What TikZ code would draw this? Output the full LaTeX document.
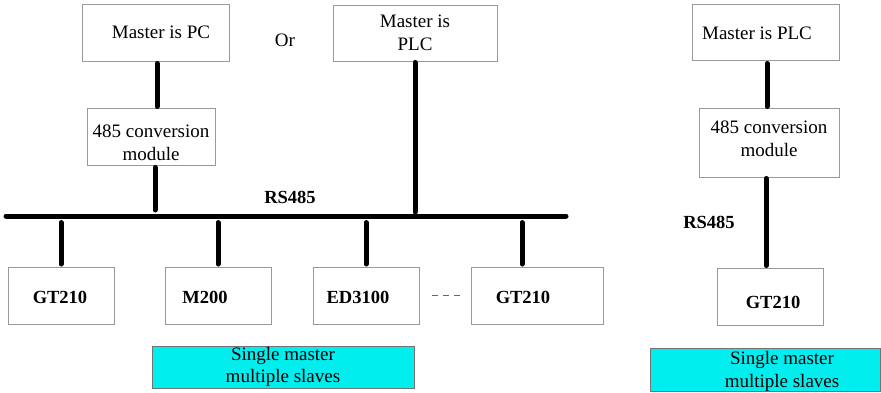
\documentclass[tikz,border=0pt]{standalone}
\usepackage{fontspec}
\setmainfont{Liberation Serif}
\definecolor{cyanfill}{RGB}{0,238,238}
\tikzset{
  box/.style={draw=black!40, line width=0.9pt, fill=white, inner sep=0pt},
  cyanbox/.style={draw=black!55, line width=0.8pt, fill=cyanfill, inner sep=0pt, align=center, font=\fontsize{19}{22}\selectfont},
  txt/.style={font=\fontsize{19}{23}\selectfont, align=center, inner sep=0pt},
  btxt/.style={font=\fontsize{18.5}{22}\selectfont\bfseries, inner sep=0pt},
  wire/.style={line width=5pt, line cap=round},
}
\begin{document}
\begin{tikzpicture}[x=1pt,y=-1pt]
\useasboundingbox (0,0) rectangle (881,393);
% left part
\node[box, minimum width=147pt, minimum height=57pt] (pc) at (155.5,32.5) {};
\node[txt] (pct) at (161,32) {Master is PC};
\node[txt] (or) at (285,40) {Or};
\node[box, minimum width=164pt, minimum height=56pt, txt] (plcL) at (415,33) {Master is\\PLC};
\node[box, minimum width=128pt, minimum height=57pt] (convL) at (151,136.5) {};
\node[txt] (convLt) at (151,143) {485 conversion\\module};
\coordinate (busL) at (6,216);
\coordinate (busR) at (566,216);
\draw[wire] (busL) -- (busR);
\node[btxt] (rs1) at (290,197) {RS485};
\node[box, minimum width=106pt, minimum height=57pt] (s1) at (61,295.5) {};
\node[box, minimum width=106pt, minimum height=57pt] (s2) at (218,295.5) {};
\node[box, minimum width=106pt, minimum height=57pt] (s3) at (366,295.5) {};
\node[box, minimum width=132pt, minimum height=57pt] (s4) at (537,295.5) {};
\node[btxt] (s1t) at (60,297) {GT210};
\node[btxt] (s2t) at (205,297) {M200};
\node[btxt] (s3t) at (358,297) {ED3100};
\node[btxt] (s4t) at (523,297) {GT210};
\draw[black!60, line width=0.8pt, dash pattern=on 6pt off 5pt] ([xshift=13pt]s3.east) -- ([xshift=-11pt]s4.west);
\draw[wire] ([xshift=1.5pt,yshift=-2pt]pc.south) -- ([xshift=6pt,yshift=1pt]convL.north);
\draw[wire] ([xshift=4pt,yshift=-2pt]convL.south) -- ([xshift=149pt,yshift=6pt]busL);
\draw[wire] ([yshift=-1pt]plcL.south) -- ([xshift=409pt,yshift=4pt]busL);
\foreach \s in {s1,s2,s3} {
  \draw[wire] ([yshift=44pt]\s.north) -- ([yshift=2.5pt]\s.north);
}
\draw[wire] ([xshift=-15pt,yshift=44pt]s4.north) -- ([xshift=-15pt,yshift=2.5pt]s4.north);
\node[cyanbox, minimum width=262pt, minimum height=42pt] (cyL) at (283,367) {Single master\\multiple slaves};
% right part
\node[box, minimum width=147pt, minimum height=56pt] (plcR) at (765.5,32) {};
\node[txt] (plcRt) at (757,33) {Master is PLC};
\node[box, minimum width=140pt, minimum height=69pt] (convR) at (769,142.5) {};
\node[txt] (convRt) at (769,138.5) {485 conversion\\module};
\node[box, minimum width=106pt, minimum height=57pt] (gtR) at (770,296.5) {};
\node[btxt] (gtRt) at (773,302) {GT210};
\node[btxt] (rs2) at (709,222) {RS485};
\draw[wire] ([xshift=1.5pt,yshift=-3pt]plcR.south) -- ([xshift=-2pt,yshift=1pt]convR.north);
\draw[wire] ([xshift=-3pt,yshift=-1pt]convR.south) -- ([xshift=-4pt,yshift=2pt]gtR.north);
\node[cyanbox, minimum width=230pt, minimum height=43pt] (cyR) at (765,369.5) {};
\node[txt] (cyRt) at (782,371) {Single master\\multiple slaves};
\end{tikzpicture}
\end{document}
